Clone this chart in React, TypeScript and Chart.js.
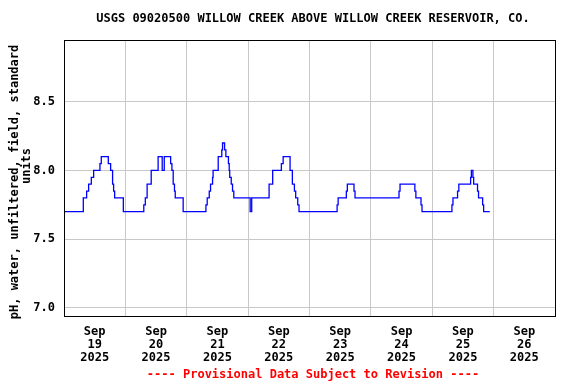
import React, { useEffect, useRef } from "react";
import { Chart, registerables } from "chart.js";

Chart.register(...registerables);

const TITLE = "USGS 09020500 WILLOW CREEK ABOVE WILLOW CREEK RESERVOIR, CO.";
const Y_TITLE_1 = "pH, water, unfiltered, field, standard";
const Y_TITLE_2 = "units";
const FOOTER = "---- Provisional Data Subject to Revision ----";

const DAY_LABELS = ["19", "20", "21", "22", "23", "24", "25", "26"];
const MONTH = "Sep";
const YEAR = "2025";
const Y_TICKS = [7.0, 7.5, 8.0, 8.5];

// hours since Sep 19 00:00 at which the reading changes
const HOURS = [
  0, 7.55, 8.85, 9.63, 10.68, 11.59, 14.06, 14.58, 17.32, 18.23, 19.0, 19.4, 19.8, 23.2,
  31.2, 31.8, 32.5, 34.1, 36.8, 38.4, 39.2, 41.7, 42.2, 42.7, 43.2, 43.5, 46.6,
  55.5, 56.0, 56.8, 57.3, 58.1, 58.3, 60.3, 61.7, 62.0, 62.8, 63.3, 64.3, 64.6, 64.8, 65.4, 65.9, 66.4,
  72.8, 73.4, 80.2, 81.6, 85.0, 85.7, 88.4, 89.3, 90.1, 90.6, 91.4, 91.9,
  106.8, 107.2, 110.4, 110.8, 113.4, 113.8, 131.0, 131.4,
  137.2, 137.6, 139.6, 140.0, 151.7, 152.1, 153.9, 154.4, 159.0, 159.3, 159.9, 160.2, 161.7, 162.1, 163.7, 164.1, 166.5,
];
const PH = [
  7.7, 7.8, 7.85, 7.9, 7.95, 8.0, 8.05, 8.1, 8.05, 8.0, 7.9, 7.85, 7.8, 7.7,
  7.75, 7.8, 7.9, 8.0, 8.1, 8.0, 8.1, 8.05, 8.0, 7.9, 7.85, 7.8, 7.7,
  7.75, 7.8, 7.85, 7.9, 7.95, 8.0, 8.1, 8.15, 8.2, 8.15, 8.1, 8.05, 8.0, 7.95, 7.9, 7.85, 7.8,
  7.7, 7.8, 7.9, 8.0, 8.05, 8.1, 8.0, 7.9, 7.85, 7.8, 7.75, 7.7,
  7.75, 7.8, 7.85, 7.9, 7.85, 7.8, 7.85, 7.9,
  7.85, 7.8, 7.75, 7.7, 7.75, 7.8, 7.85, 7.9, 7.95, 8.0, 7.95, 7.9, 7.85, 7.8, 7.75, 7.7, 7.7,
];

const FONT = "'DejaVu Sans Mono', monospace";

const decorPlugin = {
  id: "decor",
  afterDraw(chart: any) {
    const { ctx, chartArea } = chart;
    const { left, top, right, bottom } = chartArea;
    ctx.save();
    ctx.strokeStyle = "#000";
    ctx.lineWidth = 1;
    ctx.strokeRect(Math.round(left) + 0.5, Math.round(top) + 0.5, Math.round(right - left), Math.round(bottom - top));
    ctx.font = `bold 12px ${FONT}`;
    ctx.textAlign = "center";
    ctx.textBaseline = "middle";
    ctx.fillStyle = "#000";
    ctx.fillText(TITLE, 313, 19);
    ctx.fillStyle = "#ff0000";
    ctx.fillText(FOOTER, 313, 375);
    ctx.fillStyle = "#000";
    ctx.save();
    ctx.translate(15, 182);
    ctx.rotate(-Math.PI / 2);
    ctx.fillText(Y_TITLE_1, 0, 0);
    ctx.restore();
    ctx.save();
    ctx.translate(27, 166);
    ctx.rotate(-Math.PI / 2);
    ctx.fillText(Y_TITLE_2, 0, 0);
    ctx.restore();
    ctx.restore();
  },
};

export default function App() {
  const ref = useRef<HTMLCanvasElement>(null);
  useEffect(() => {
    if (!ref.current) return;
    const points = HOURS.map((h, i) => ({ x: h, y: PH[i] }));
    const chart = new Chart(ref.current, {
      type: "line",
      data: {
        datasets: [
          {
            data: points,
            borderColor: "#0000ff",
            borderWidth: 1.3,
            pointRadius: 0,
            stepped: true,
            fill: false,
          },
        ],
      },
      options: {
        animation: false,
        responsive: true,
        maintainAspectRatio: false,
        layout: { padding: { left: 0, top: 40, right: 21, bottom: 0 } },
        plugins: { legend: { display: false }, tooltip: { enabled: false }, title: { display: false } },
        font: { family: FONT },
        scales: {
          x: {
            type: "linear",
            min: 0,
            max: 24 * DAY_LABELS.length,
            afterBuildTicks: (scale: any) => {
              const t = [];
              for (let v = 0; v <= 24 * DAY_LABELS.length; v += 12) t.push({ value: v });
              scale.ticks = t;
            },
            afterFit: (scale: any) => {
              scale.height = 68;
            },
            grid: {
              color: (c: any) => (c.tick && c.tick.value % 24 === 0 ? "#c8c8c8" : "rgba(0,0,0,0)"),
              drawTicks: false,
              lineWidth: 1,
            },
            border: { display: false },
            ticks: {
              autoSkip: false,
              maxRotation: 0,
              minRotation: 0,
              padding: 10,
              color: "#000",
              font: { family: FONT, size: 12, weight: "bold", lineHeight: 1.05 },
              callback: (v: any) => {
                const n = Number(v);
                if (n % 24 !== 12) return "";
                const i = (n - 12) / 24;
                return [MONTH, DAY_LABELS[i], YEAR];
              },
            },
          },
          y: {
            type: "linear",
            min: 6.94,
            max: 8.95,
            afterBuildTicks: (scale: any) => {
              scale.ticks = Y_TICKS.map((v) => ({ value: v }));
            },
            afterFit: (scale: any) => {
              scale.width = 64;
            },
            grid: { color: "#c8c8c8", drawTicks: false, lineWidth: 1 },
            border: { display: false },
            ticks: {
              padding: 9,
              color: "#000",
              font: { family: FONT, size: 12, weight: "bold" },
              callback: (v: any) => Number(v).toFixed(1),
            },
          },
        },
      },
      plugins: [decorPlugin],
    } as any);
    return () => chart.destroy();
  }, []);
  return (
    <div style={{ position: "fixed", left: 0, top: 0, width: 576, height: 384, background: "#fff" }}>
      <canvas ref={ref} />
    </div>
  );
}
